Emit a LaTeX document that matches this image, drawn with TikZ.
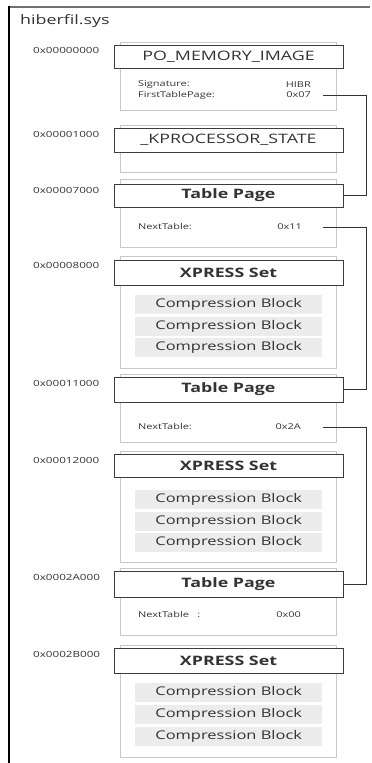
\documentclass[tikz,border=0pt]{standalone}
\usepackage{fontspec}
\setmainfont[FakeStretch=1.37]{Open Sans}
\definecolor{boxgray}{HTML}{C8C8C8}
\definecolor{hdrgray}{HTML}{3C3C3C}
\definecolor{fillgray}{HTML}{ECECEC}
\definecolor{txtgray}{HTML}{333333}
\definecolor{topgray}{HTML}{707070}
\tikzset{
  container/.style={draw=boxgray, line width=0.8pt, minimum width=216pt, anchor=north west, inner sep=0pt, outer sep=0pt},
  header/.style={draw=hdrgray, fill=white, line width=0.9pt, minimum width=229pt, minimum height=24pt, anchor=north west, inner sep=0pt, outer sep=0pt, text=txtgray, font=\fontsize{13}{15}\selectfont},
  bheader/.style={header, font=\fontsize{13}{15}\selectfont\bfseries},
  cblock/.style={fill=fillgray, minimum width=187pt, minimum height=19pt, anchor=north west, inner sep=0pt, text=txtgray, font=\fontsize{12}{14}\selectfont},
  addr/.style={anchor=west, inner sep=0pt, text=txtgray, font=\fontsize{8.5}{10}\selectfont},
  small/.style={inner sep=0pt, text=txtgray, font=\fontsize{8}{9}\selectfont},
  conn/.style={draw=black!80, line width=0.9pt},
}
\begin{document}
\begin{tikzpicture}[x=1pt,y=-1pt]
\useasboundingbox (0,0) rectangle (372,763);
% outer frame
\draw[topgray, line width=1.5pt] (9,7) -- (370,7);
\draw[black, line width=1.6pt] (9,6.3) -- (9,763);
\node[anchor=west, inner sep=0pt, text=txtgray, font=\fontsize{13}{15}\selectfont] (title) at (20,21) {hiberfil.sys};

% block 1
\node[container, minimum height=68pt] (c1) at (120,42) {};
\node[header, minimum height=23pt] (h1) at (114,45) {PO\_MEMORY\_IMAGE};
\node[addr] (a1) at (33,50) {0x00000000};
\node[small, anchor=west] (sig) at (138,85) {Signature:};
\node[small, anchor=east] (sigv) at (311,85) {HIBR};
\node[small, anchor=west] (ftp) at (138,95) {FirstTablePage:};
\node[small, anchor=east] (ftpv) at (311,95) {0x07};
\coordinate (s1) at (323,95);

% block 2
\node[container, minimum height=47pt] (c2) at (120,125) {};
\node[header] (h2) at (114,128) {\_KPROCESSOR\_STATE};
\node[addr] (a2) at (33,134) {0x00001000};

% block 3
\node[container, minimum height=68pt] (c3) at (120,179) {};
\node[bheader, minimum height=23pt] (h3) at (114,184) {Table Page};
\node[addr] (a3) at (33,190) {0x00007000};
\node[small, anchor=west] (nt3) at (138,227) {NextTable:};
\node[small, anchor=east] (nt3v) at (302,227) {0x11};
\coordinate (s3) at (323,227);

% block 4
\node[container, minimum height=112pt] (c4) at (120,256) {};
\node[bheader, minimum height=25pt] (h4) at (114,260) {XPRESS Set};
\node[addr] (a4) at (33,265) {0x00008000};
\node[cblock] (b41) at (135,295) {Compression Block};
\node[cblock] (b42) at (135,317) {Compression Block};
\node[cblock] (b43) at (135,338) {Compression Block};

% block 5
\node[container, minimum height=68pt] (c5) at (120,374) {};
\node[bheader, minimum height=25pt] (h5) at (114,377) {Table Page};
\node[addr] (a5) at (33,383) {0x00011000};
\node[small, anchor=west] (nt5) at (138,427) {NextTable:};
\node[small, anchor=east] (nt5v) at (301,427) {0x2A};
\coordinate (s5) at (323,427);

% block 6
\node[container, minimum height=111pt] (c6) at (120,451) {};
\node[bheader, minimum height=23pt] (h6) at (114,454) {XPRESS Set};
\node[addr] (a6) at (33,460) {0x00012000};
\node[cblock] (b61) at (135,490) {Compression Block};
\node[cblock] (b62) at (135,512) {Compression Block};
\node[cblock] (b63) at (135,533) {Compression Block};

% block 7
\node[container, minimum height=67pt] (c7) at (120,568) {};
\node[bheader, minimum height=26pt] (h7) at (114,571) {Table Page};
\node[addr] (a7) at (33,577) {0x0002A000};
\node[small, anchor=west] (nt7) at (138,615) {NextTable~~~:};
\node[small, anchor=east] (nt7v) at (301,615) {0x00};

% block 8
\node[container, minimum height=112pt] (c8) at (120,645) {};
\node[bheader, minimum height=25pt] (h8) at (114,648) {XPRESS Set};
\node[addr] (a8) at (33,654) {0x0002B000};
\node[cblock] (b81) at (135,683) {Compression Block};
\node[cblock] (b82) at (135,705) {Compression Block};
\node[cblock] (b83) at (135,727) {Compression Block};

% connectors
\draw[conn] (s1) -- ++(43,0) |- (h3.east);
\draw[conn] (s3) -- ++(43,0) |- (h5.east);
\draw[conn] (s5) -- ++(43,0) |- (h7.east);
\end{tikzpicture}
\end{document}
